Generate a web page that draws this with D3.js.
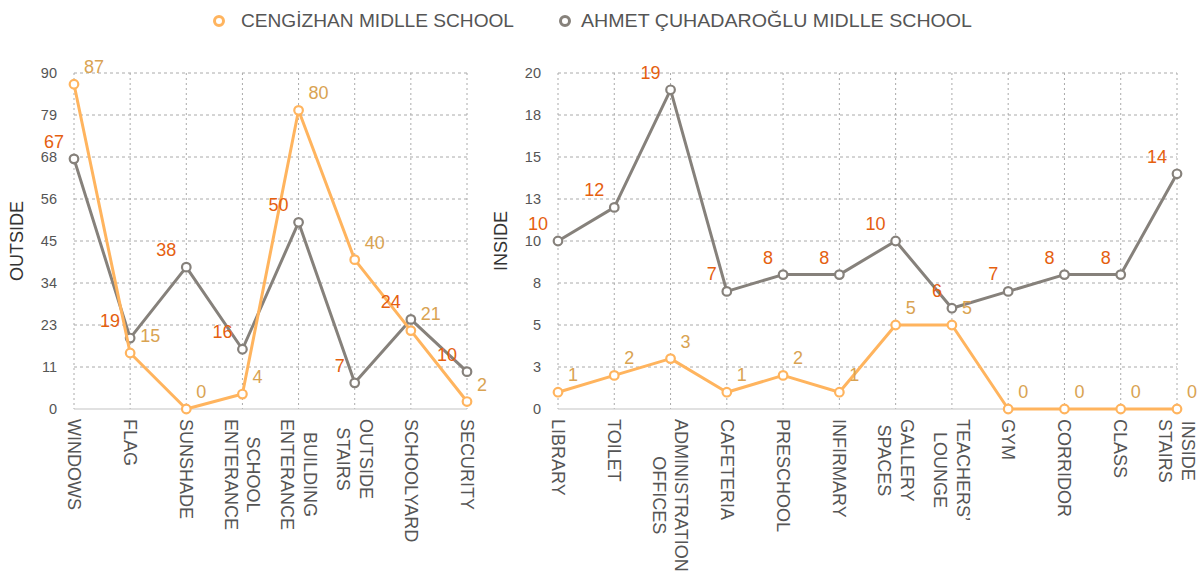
<!DOCTYPE html>
<html>
<head>
<meta charset="utf-8">
<script src="https://cdn.jsdelivr.net/npm/d3@7"></script>
<style>
  html, body { margin: 0; padding: 0; background: #fff; }
  svg { display: block; font-family: "Liberation Sans", Arial, sans-serif; }
</style>
</head>
<body>
<svg id="chart" width="1201" height="571"></svg>
<script>
// ---------- DATA ----------
const seriesNames = ["CENGİZHAN MIDLLE SCHOOL", "AHMET ÇUHADAROĞLU MIDLLE SCHOOL"];

const outsideCategories = ["WINDOWS", "FLAG", "SUNSHADE", "SCHOOL\nENTERANCE", "BUILDING\nENTERANCE", "OUTSIDE\nSTAIRS", "SCHOOLYARD", "SECURITY"];
const outsideCengizhan = [87, 15, 0, 4, 80, 40, 21, 2];
const outsideAhmet     = [67, 19, 38, 16, 50, 7, 24, 10];
const outsideTickValues = [0, 11.25, 22.5, 33.75, 45, 56.25, 67.5, 78.75, 90];
const outsideTickLabels = ["0", "11", "23", "34", "45", "56", "68", "79", "90"];

const insideCategories = ["LIBRARY", "TOILET", "ADMINISTRATION\nOFFICES", "CAFETERIA", "PRESCHOOL", "INFIRMARY", "GALLERY\nSPACES", "TEACHERS’\nLOUNGE", "GYM", "CORRIDOR", "CLASS", "INSIDE\nSTAIRS"];
const insideCengizhan = [1, 2, 3, 1, 2, 1, 5, 5, 0, 0, 0, 0];
const insideAhmet     = [10, 12, 19, 7, 8, 8, 10, 6, 7, 8, 8, 14];
const insideTickValues = [0, 2.5, 5, 7.5, 10, 12.5, 15, 17.5, 20];
const insideTickLabels = ["0", "3", "5", "8", "10", "13", "15", "18", "20"];

// ---------- STYLE ----------
const orange = "#ffb45e";
const grey = "#86817b";
const orangeLabel = "#d9a352";
const greyLabel = "#e5600f";
const textColor = "#555";

const svg = d3.select("#chart");

function drawPanel(opts) {
  const g = svg.append("g");
  const x = d3.scalePoint().domain(opts.categories).range([opts.x0, opts.x1]).padding(0);
  const y = d3.scaleLinear().domain([0, opts.max]).range([409, 73]);

  // horizontal grid
  g.selectAll(".hg").data(opts.tickValues.filter(v => v > 0)).enter().append("line")
    .attr("x1", opts.x0).attr("x2", opts.x1)
    .attr("y1", d => y(d)).attr("y2", d => y(d))
    .attr("stroke", "#aaaaaa").attr("stroke-width", 1).attr("stroke-dasharray", "3,3");
  // vertical grid
  g.selectAll(".vg").data(opts.categories).enter().append("line")
    .attr("x1", d => x(d)).attr("x2", d => x(d))
    .attr("y1", y(opts.max)).attr("y2", y(0))
    .attr("stroke", "#aaaaaa").attr("stroke-width", 1).attr("stroke-dasharray", "2,3");
  // baseline
  g.append("line").attr("x1", opts.x0).attr("x2", opts.x1)
    .attr("y1", y(0)).attr("y2", y(0)).attr("stroke", "#c4c4c4").attr("stroke-width", 1.2);

  // y tick labels
  g.selectAll(".yt").data(opts.tickValues).enter().append("text")
    .attr("x", opts.x0 - 17).attr("y", d => y(d)).attr("dy", "0.35em")
    .attr("text-anchor", "end").attr("font-size", 14.5).attr("fill", textColor)
    .text((d, i) => opts.tickLabels[i]);

  // y title
  g.append("text")
    .attr("transform", `translate(${opts.titleX},241) rotate(-90)`)
    .attr("text-anchor", "middle").attr("dy", "0.35em")
    .attr("font-size", 18).attr("fill", "#333").text(opts.title);

  // x category labels
  opts.categories.forEach(c => {
    const lines = c.split("\n");
    const t = g.append("text")
      .attr("transform", `translate(${x(c)},419) rotate(90)`)
      .attr("font-size", 18).attr("fill", textColor);
    const tspans = lines.map(l => t.append("tspan").text(l));
    const lens = tspans.map(s => s.node().getComputedTextLength());
    const maxLen = d3.max(lens);
    const n = lines.length;
    const lh = 22.5;
    tspans.forEach((s, i) => {
      s.attr("x", maxLen / 2).attr("text-anchor", "middle")
       .attr("y", 6.3 + (i - (n - 1) / 2) * lh);
    });
  });

  const line = d3.line().x((d, i) => x(opts.categories[i])).y(d => y(d));

  const series = [
    { vals: opts.ahmet, color: grey, labelColor: greyLabel, side: -1 },
    { vals: opts.cengizhan, color: orange, labelColor: orangeLabel, side: 1 }
  ];
  series.forEach(s => {
    g.append("path").datum(s.vals).attr("d", line)
      .attr("fill", "none").attr("stroke", s.color).attr("stroke-width", 3)
      .attr("stroke-linejoin", "round");
    g.selectAll(null).data(s.vals).enter().append("circle")
      .attr("cx", (d, i) => x(opts.categories[i])).attr("cy", d => y(d))
      .attr("r", 4.3).attr("fill", "#fff").attr("stroke", s.color).attr("stroke-width", 2.2);
  });
  // labels on top
  series.forEach(s => {
    g.selectAll(null).data(s.vals).enter().append("text")
      .attr("x", (d, i) => x(opts.categories[i]) + s.side * 10)
      .attr("y", d => y(d) - 11)
      .attr("text-anchor", s.side > 0 ? "start" : "end")
      .attr("font-size", 18).attr("fill", s.labelColor)
      .text(d => d);
  });
}

drawPanel({
  categories: outsideCategories, cengizhan: outsideCengizhan, ahmet: outsideAhmet,
  tickValues: outsideTickValues, tickLabels: outsideTickLabels,
  max: 90, x0: 74, x1: 467, title: "OUTSIDE", titleX: 17
});
drawPanel({
  categories: insideCategories, cengizhan: insideCengizhan, ahmet: insideAhmet,
  tickValues: insideTickValues, tickLabels: insideTickLabels,
  max: 20, x0: 558, x1: 1177, title: "INSIDE", titleX: 501
});

// ---------- LEGEND ----------
const legend = svg.append("g");
const legendItems = [
  { name: seriesNames[0], color: orange, cx: 219, tx: 241, w: 273 },
  { name: seriesNames[1], color: grey, cx: 565, tx: 581, w: 391 }
];
legendItems.forEach(it => {
  legend.append("circle").attr("cx", it.cx).attr("cy", 21).attr("r", 4.5)
    .attr("fill", "#fff").attr("stroke", it.color).attr("stroke-width", 3);
  legend.append("text").attr("x", it.tx).attr("y", 21).attr("dy", "0.35em")
    .attr("font-size", 18).attr("fill", textColor)
    .attr("textLength", it.w).attr("lengthAdjust", "spacingAndGlyphs")
    .text(it.name);
});
</script>
</body>
</html>
